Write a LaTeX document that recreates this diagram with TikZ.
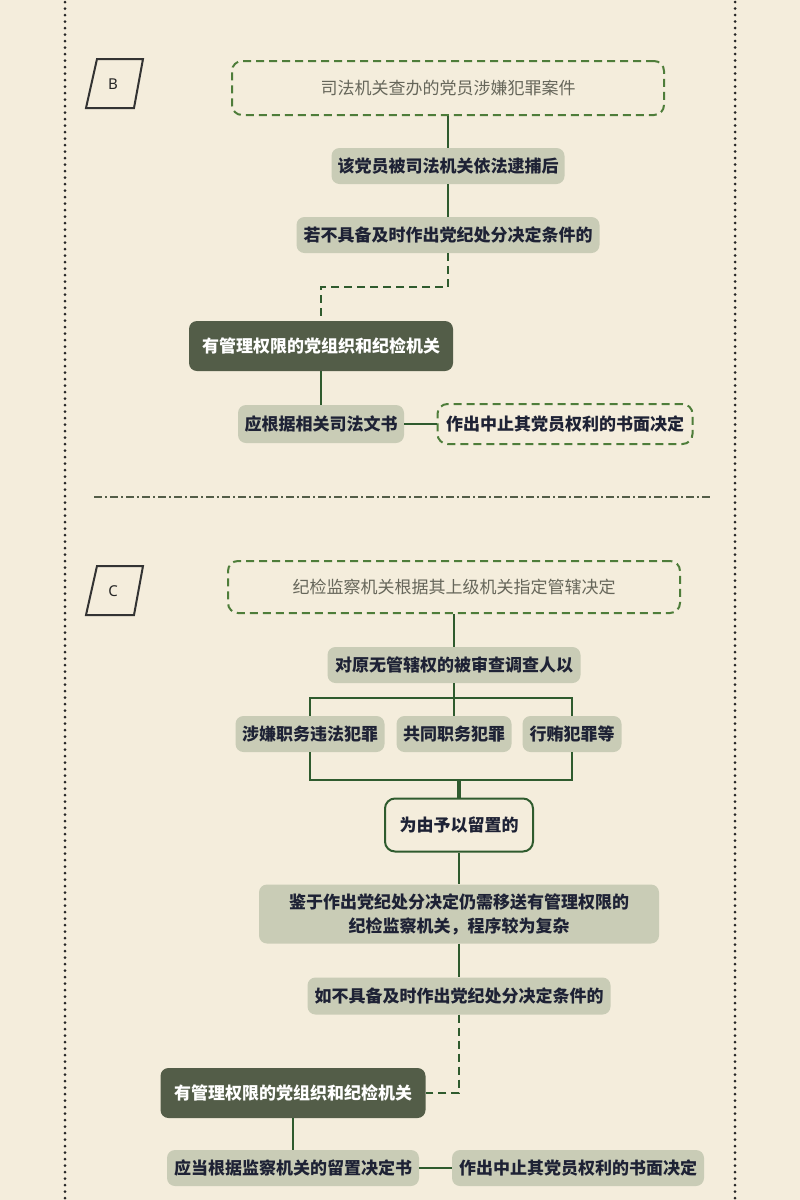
\documentclass[tikz,border=0pt]{standalone}
\usepackage{fontspec}
\setmainfont{Noto Sans CJK SC}
\newfontfamily\tagfont{Noto Sans}
\definecolor{paper}{HTML}{F4EDDC}
\definecolor{leaf}{HTML}{C9CCB6}
\definecolor{moss}{HTML}{535D48}
\definecolor{wire}{HTML}{2F5B2E}
\definecolor{dashgreen}{HTML}{4E7D3A}
\definecolor{ink}{HTML}{1E2235}
\definecolor{faded}{HTML}{66665A}

\begin{document}
\begin{tikzpicture}[x=1pt,y=-1pt,
    every node/.style={font=\fontsize{17}{24}\selectfont\bfseries,text=ink,inner sep=0pt},
    leafbox/.style={fill=leaf,rounded corners=8pt,minimum height=36pt},
    mossbox/.style={fill=moss,text=white,rounded corners=8pt,minimum height=50pt},
    casebox/.style={draw=dashgreen,line width=2pt,dash pattern=on 8pt off 5pt,
      rounded corners=10pt,font=\fontsize{17}{24}\selectfont,text=faded},
    stopbox/.style={draw=dashgreen,line width=2pt,dash pattern=on 8pt off 5pt,
      rounded corners=10pt,minimum height=40pt},
    holdbox/.style={draw=wire,line width=2pt,fill=paper,rounded corners=10pt},
    link/.style={draw=wire,line width=2.2pt},
    dlink/.style={draw=wire,line width=2.2pt,dash pattern=on 8pt off 5pt},
    tagbox/.style={draw=black!80,line width=2pt},
    taglabel/.style={font=\tagfont\fontsize{15}{17}\selectfont\bfseries,text=black!85}]

  \useasboundingbox (0,0) rectangle (800,1200);
  \fill[paper] (0,0) rectangle (800,1200);

  % frame
  \draw[black!85,line width=3pt,line cap=round,dash pattern=on 0pt off 6.5pt] (65,2) -- (65,1200);
  \draw[black!85,line width=3pt,line cap=round,dash pattern=on 0pt off 6.5pt] (735,2) -- (735,1200);

  \foreach \lab/\y in {B/84,C/591} {
    \draw[tagbox,shift={(113,\y)}] (-16,-25) -- (30,-25) -- (21,24) -- (-27,24) -- cycle;
    \node[taglabel] (tag\lab) at (113,\y) {\lab};
  }

  % part B
  \node[casebox,minimum width=432pt,minimum height=54pt] (bcase) at (448,88) {司法机关查办的党员涉嫌犯罪案件};
  \node[leafbox,minimum width=233pt] (barrest) at (448,166) {该党员被司法机关依法逮捕后};
  \node[leafbox,minimum width=303pt] (bcond) at (448,235) {若不具备及时作出党纪处分决定条件的};
  \node[mossbox,minimum width=264pt] (borg) at (321,346) {有管理权限的党组织和纪检机关};
  \node[leafbox,minimum width=166pt,minimum height=38pt] (bdoc) at (321,424) {应根据相关司法文书};
  \node[stopbox,minimum width=255pt] (bstop) at (565,424) {作出中止其党员权利的书面决定};

  \draw[link] (bcase) -- (barrest);
  \draw[link] (barrest) -- (bcond);
  \draw[dlink] (bcond.south) -- ++(0,34) -| (borg.north);
  \draw[link] (borg) -- (bdoc);
  \draw[link] (bdoc) -- (bstop);

  \draw[draw=moss,line width=1.8pt,dash pattern=on 8pt off 3pt on 2pt off 3pt] (94,497) -- (712,497);

  % part C
  \node[casebox,minimum width=452pt,minimum height=52pt] (ccase) at (454,587) {纪检监察机关根据其上级机关指定管辖决定};
  \node[leafbox,minimum width=253pt] (cperson) at (454,665) {对原无管辖权的被审查调查人以};
  \foreach \i/\x/\w/\txt in {1/310/149/涉嫌职务违法犯罪,2/454/115/共同职务犯罪,3/572/99/行贿犯罪等} {
    \node[leafbox,minimum width=\w pt] (cbr\i) at (\x,734) {\txt};
  }
  \node[holdbox,minimum width=148pt,minimum height=53pt] (cdetain) at (459,825) {为由予以留置的};
  \node[leafbox,minimum width=400pt,minimum height=59pt,align=center] (cmove) at (459,914)
    {鉴于作出党纪处分决定仍需移送有管理权限的\\纪检监察机关，程序较为复杂};
  \node[leafbox,minimum width=303pt,minimum height=37pt] (ccond) at (459,996) {如不具备及时作出党纪处分决定条件的};
  \node[mossbox,minimum width=265pt] (corg) at (293,1093) {有管理权限的党组织和纪检机关};
  \node[leafbox,minimum width=252pt] (cdoc) at (293,1168) {应当根据监察机关的留置决定书};
  \node[leafbox,minimum width=252pt] (cstop) at (578,1168) {作出中止其党员权利的书面决定};

  \coordinate (csplit) at (454,698);
  \coordinate (cmerge) at (459,780);
  \draw[link] (ccase) -- (cperson);
  \draw[link] (cperson.south) -- (csplit);
  \draw[link] (cbr1.north) |- (csplit) -| (cbr3.north);
  \draw[link] (csplit) -- (cbr2.north);
  \draw[link] (cbr1.south) |- (cmerge) -| (cbr3.south);
  \draw[draw=wire,line width=4pt] (cmerge) -- (cdetain.north);
  \draw[link] (cdetain) -- (cmove);
  \draw[link] (cmove) -- (ccond);
  \draw[dlink] (ccond.south) |- (corg.east);
  \draw[link] (corg) -- (cdoc);
  \draw[link] (cdoc) -- (cstop);

\end{tikzpicture}
\end{document}
